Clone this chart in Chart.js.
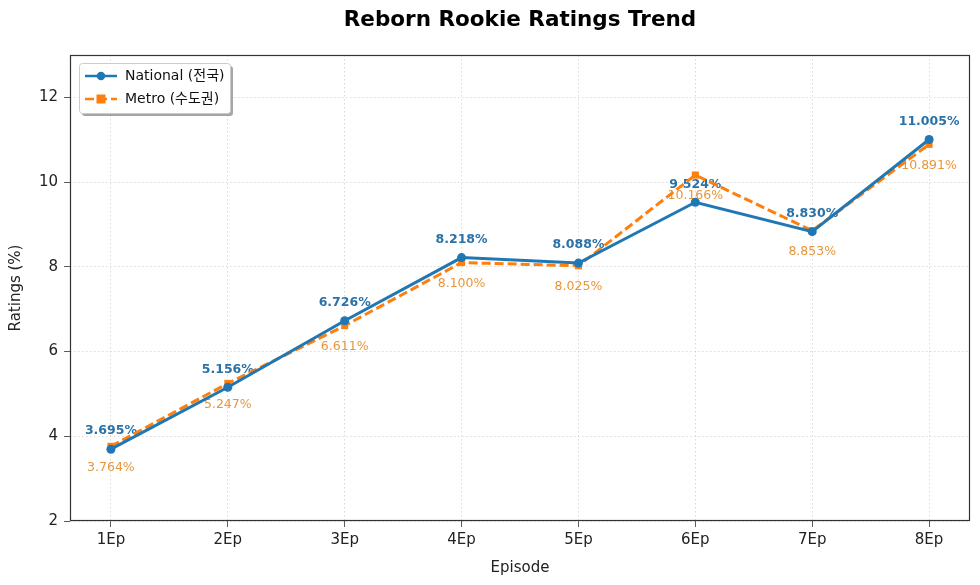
<!DOCTYPE html>
<html><head><meta charset="utf-8">
<script src="https://cdn.jsdelivr.net/npm/chart.js@4/dist/chart.umd.min.js"></script>
<style>html,body{margin:0;padding:0;background:#fff}#wrap{width:980px;height:585px}</style>
</head><body><div id="wrap"><canvas id="c" width="980" height="585"></canvas></div>
<script>
const categories = ['1Ep','2Ep','3Ep','4Ep','5Ep','6Ep','7Ep','8Ep'];
const nationalValues = [3.695, 5.156, 6.726, 8.218, 8.088, 9.524, 8.830, 11.005];
const metroValues = [3.764, 5.247, 6.611, 8.100, 8.025, 10.166, 8.853, 10.891];
const yTicks = [2, 4, 6, 8, 10, 12];
const seriesNames = ['National (전국)', 'Metro (수도권)'];
const titleText = 'Reborn Rookie Ratings Trend';

const FONT = '"DejaVu Sans", "Noto Sans CJK KR", sans-serif';
const BLUE = '#1f77b4', ORANGE = '#ff7f0e';

const toXY = arr => arr.map((v,i)=>({x:i+1, y:v}));

const labelPlugin = {
  id:'labels',
  beforeDatasetsDraw(chart){
    const ctx = chart.ctx;
    ctx.save();
    ctx.textAlign='center'; ctx.textBaseline='middle';
    const m0 = chart.getDatasetMeta(0), m1 = chart.getDatasetMeta(1);
    ctx.font = 'bold 12.5px ' + FONT; ctx.fillStyle = '#2a72a8';
    m0.data.forEach((p,i)=>{ ctx.fillText(nationalValues[i].toFixed(3)+'%', p.x, p.y-18); });
    ctx.font = '12.5px ' + FONT; ctx.fillStyle = '#e8963c';
    m1.data.forEach((p,i)=>{ ctx.fillText(metroValues[i].toFixed(3)+'%', p.x, p.y+21); });
    ctx.restore();
  },
  afterDraw(chart){
    const ctx = chart.ctx, a = chart.chartArea;
    ctx.save();
    ctx.strokeStyle='#333'; ctx.lineWidth=1.2;
    ctx.strokeRect(a.left+0.5, a.top+0.5, a.right-a.left-1, a.bottom-a.top-1);
    ctx.fillStyle='#000'; ctx.font='bold 21.5px '+FONT; ctx.textAlign='center'; ctx.textBaseline='middle';
    ctx.fillText(titleText, (a.left+a.right)/2, 20);
    const lx=79, ly=63, lw=151, lh=50;
    ctx.fillStyle='rgba(0,0,0,0.35)';
    ctx.beginPath(); ctx.roundRect(lx+3, ly+3, lw, lh, 3); ctx.fill();
    ctx.fillStyle='#fff'; ctx.strokeStyle='#cccccc'; ctx.lineWidth=1;
    ctx.beginPath(); ctx.roundRect(lx+0.5, ly+0.5, lw, lh, 3); ctx.fill(); ctx.stroke();
    ctx.font='14px '+FONT; ctx.textAlign='left'; ctx.textBaseline='middle';
    let y1 = ly+13;
    ctx.strokeStyle=BLUE; ctx.lineWidth=2.5; ctx.setLineDash([]);
    ctx.beginPath(); ctx.moveTo(lx+6,y1); ctx.lineTo(lx+38,y1); ctx.stroke();
    ctx.fillStyle=BLUE; ctx.beginPath(); ctx.arc(lx+22,y1,4.2,0,Math.PI*2); ctx.fill();
    ctx.fillStyle='#111'; ctx.fillText(seriesNames[0], lx+46, y1);
    let y2 = ly+36;
    ctx.strokeStyle=ORANGE; ctx.setLineDash([9,4]);
    ctx.beginPath(); ctx.moveTo(lx+6,y2); ctx.lineTo(lx+38,y2); ctx.stroke();
    ctx.setLineDash([]);
    ctx.fillStyle=ORANGE; ctx.fillRect(lx+22-4.5,y2-4.5,9,9);
    ctx.fillStyle='#111'; ctx.fillText(seriesNames[1], lx+46, y2);
    ctx.restore();
  }
};

new Chart(document.getElementById('c'), {
  type:'line',
  data:{ datasets:[
    {label:seriesNames[0], data:toXY(nationalValues), borderColor:BLUE, backgroundColor:BLUE,
     borderWidth:3, pointRadius:4.5, pointStyle:'circle', pointBorderWidth:0, tension:0},
    {label:seriesNames[1], data:toXY(metroValues), borderColor:ORANGE, backgroundColor:ORANGE,
     borderWidth:3, borderDash:[9,4], pointRadius:5, pointStyle:'rect', pointBorderWidth:0, tension:0}
  ]},
  options:{
    responsive:false, animation:false,
    layout:{padding:{top:55, right:10, left:0, bottom:0}},
    plugins:{legend:{display:false}, title:{display:false}, tooltip:{enabled:false}},
    scales:{
      x:{type:'linear', min:0.65, max:8.35,
        afterBuildTicks(s){ s.ticks = categories.map((c,i)=>({value:i+1})); },
        afterFit(s){ s.height = 64; },
        ticks:{callback:(v)=>categories[v-1], color:'#222', font:{family:FONT, size:15}, padding:4, maxRotation:0, autoSkip:false},
        grid:{color:'rgba(180,180,180,0.6)', lineWidth:0.8, tickLength:6, tickColor:'#333'},
        border:{display:false, dash:[1.5,2.5]},
        title:{display:true, text:'Episode', color:'#222', font:{family:FONT, size:15}, padding:{top:6, bottom:8}}
      },
      y:{min:2, max:13,
        afterBuildTicks(s){ s.ticks = yTicks.map(v=>({value:v})); },
        afterFit(s){ s.width = 70; },
        ticks:{color:'#222', font:{family:FONT, size:15}, padding:6},
        grid:{color:'rgba(180,180,180,0.6)', lineWidth:0.8, tickLength:6, tickColor:'#333'},
        border:{display:false, dash:[1.5,2.5]},
        title:{display:true, text:'Ratings (%)', color:'#222', font:{family:FONT, size:15}, padding:{top:7, bottom:4}}
      }
    }
  },
  plugins:[labelPlugin]
});
</script></body></html>
